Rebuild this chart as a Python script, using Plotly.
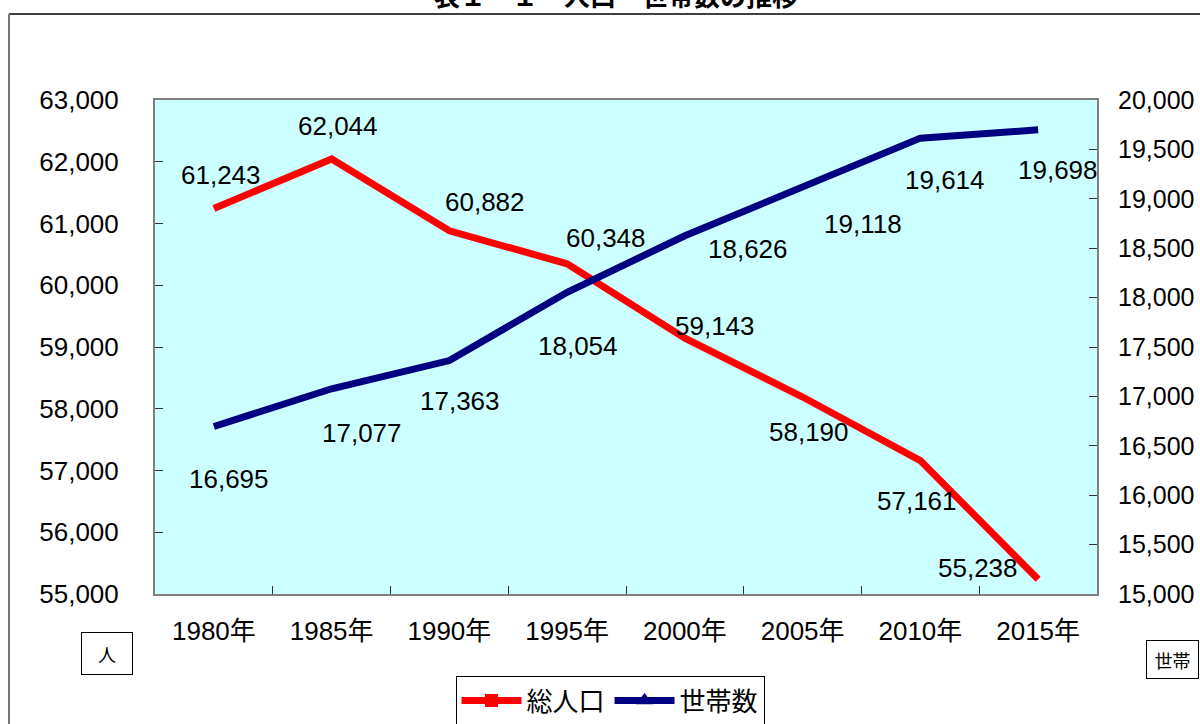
import plotly.graph_objects as go

# Census years and values
years = ["1980年", "1985年", "1990年", "1995年", "2000年", "2005年", "2010年", "2015年"]
population = [61243, 62044, 60882, 60348, 59143, 58190, 57161, 55238]
households = [16695, 17077, 17363, 18054, 18626, 19118, 19614, 19698]

# Pixel offsets of each value label relative to its point (dx right, dy down)
pop_label_offsets = [(7, -33), (6, -33), (36, -29), (39, -26), (30, -12), (6, 35), (-3, 40), (-60, -11)]
hh_label_offsets = [(15, 52), (30, 44), (11, 40), (11, 54), (63, 13), (60, 37), (25, 42), (20, 40)]

W, H = 1200, 724
M_L, M_R, M_T, M_B = 155, 103, 100, 130
PW, PH = W - M_L - M_R, H - M_T - M_B

FONT = "Liberation Sans, Arial, Noto Sans CJK JP, sans-serif"
RED = "#FF0000"
NAVY = "#000080"
TXT = 26


def px_x(px):
    return (px - M_L) / PW


def px_y(py):
    return (H - M_B - py) / PH


fig = go.Figure()

fig.add_trace(go.Scatter(
    x=years, y=population, mode="lines", name="総人口",
    line=dict(color=RED, width=7), showlegend=False, yaxis="y",
))
fig.add_trace(go.Scatter(
    x=years, y=households, mode="lines", name="世帯数",
    line=dict(color=NAVY, width=7), showlegend=False, yaxis="y2",
))

# Legend entries carrying the marker symbols
fig.add_trace(go.Scatter(
    x=[None], y=[None], mode="lines+markers", name="総人口",
    line=dict(color=RED, width=7),
    marker=dict(symbol="square", size=13, color=RED),
))
fig.add_trace(go.Scatter(
    x=[None], y=[None], mode="lines+markers", name="世帯数",
    line=dict(color=NAVY, width=7),
    marker=dict(symbol="triangle-up", size=15, color=NAVY), yaxis="y2",
))

annotations = []
for yr, v, (dx, dy) in zip(years, population, pop_label_offsets):
    annotations.append(dict(
        x=yr, y=v, xref="x", yref="y", text=f"{v:,}", showarrow=False,
        xshift=dx, yshift=-dy, font=dict(size=TXT, color="black", family=FONT),
    ))
for yr, v, (dx, dy) in zip(years, households, hh_label_offsets):
    annotations.append(dict(
        x=yr, y=v, xref="x", yref="y2", text=f"{v:,}", showarrow=False,
        xshift=dx, yshift=-dy, font=dict(size=TXT, color="black", family=FONT),
    ))

# Title (runs off the top edge of the page)
annotations.append(dict(
    x=px_x(616), y=px_y(-5), xref="paper", yref="paper",
    text="<b>表１－１　人口・世帯数の推移</b>", showarrow=False,
    xanchor="center", yanchor="middle",
    font=dict(size=26, color="black", family="Noto Sans CJK JP"),
))

# Unit boxes
annotations.append(dict(
    x=px_x(107), y=px_y(653), xref="paper", yref="paper", text="人",
    showarrow=False, xanchor="center", yanchor="middle",
    width=48, height=39, bordercolor="black", borderwidth=1, bgcolor="white",
    font=dict(size=18, color="black", family="Noto Sans CJK JP"),
))
annotations.append(dict(
    x=px_x(1172), y=px_y(659), xref="paper", yref="paper", text="世帯",
    showarrow=False, xanchor="center", yanchor="middle",
    width=49, height=35, bordercolor="black", borderwidth=1, bgcolor="white",
    font=dict(size=18, color="black", family="Noto Sans CJK JP"),
))

shapes = [
    dict(type="line", xref="paper", yref="paper",
         x0=px_x(9), x1=px_x(1205), y0=px_y(14), y1=px_y(14),
         line=dict(color="black", width=1.5)),
    dict(type="line", xref="paper", yref="paper",
         x0=px_x(9), x1=px_x(9), y0=px_y(14), y1=px_y(730),
         line=dict(color="#777777", width=2)),
]

fig.update_layout(
    width=W, height=H,
    margin=dict(l=M_L, r=M_R, t=M_T, b=M_B, autoexpand=False),
    paper_bgcolor="white",
    plot_bgcolor="#CCFFFF",
    font=dict(family=FONT, size=TXT, color="black"),
    xaxis=dict(
        type="category", range=[-0.5, 7.5], showgrid=False,
        showline=True, linecolor="#808080", linewidth=2, mirror=True,
        ticks="inside", ticklen=8, tickcolor="#333333", tickson="boundaries",
        tickfont=dict(size=TXT, family=FONT), ticklabelstandoff=13,
    ),
    yaxis=dict(
        range=[55000, 63000], dtick=1000, tickformat=",d", showgrid=False,
        showline=True, linecolor="#808080", linewidth=2, mirror=True,
        ticks="inside", ticklen=8, tickcolor="#333333",
        tickfont=dict(size=TXT, family=FONT), ticklabelstandoff=29,
        zeroline=False,
    ),
    yaxis2=dict(
        range=[15000, 20000], dtick=500, tickformat=",d", showgrid=False,
        overlaying="y", side="right",
        showline=True, linecolor="#808080", linewidth=2,
        ticks="inside", ticklen=8, tickcolor="#333333",
        tickfont=dict(size=25, family=FONT), ticklabelstandoff=14,
        zeroline=False,
    ),
    legend=dict(
        orientation="h", xref="container", yref="container",
        x=610 / W, y=1 - 676 / H, xanchor="center", yanchor="top",
        bordercolor="black", borderwidth=1, bgcolor="white",
        font=dict(size=26, family="Noto Sans CJK JP", color="black"),
        itemwidth=60,
    ),
    annotations=annotations,
    shapes=shapes,
)

fig.write_html("out.html")
